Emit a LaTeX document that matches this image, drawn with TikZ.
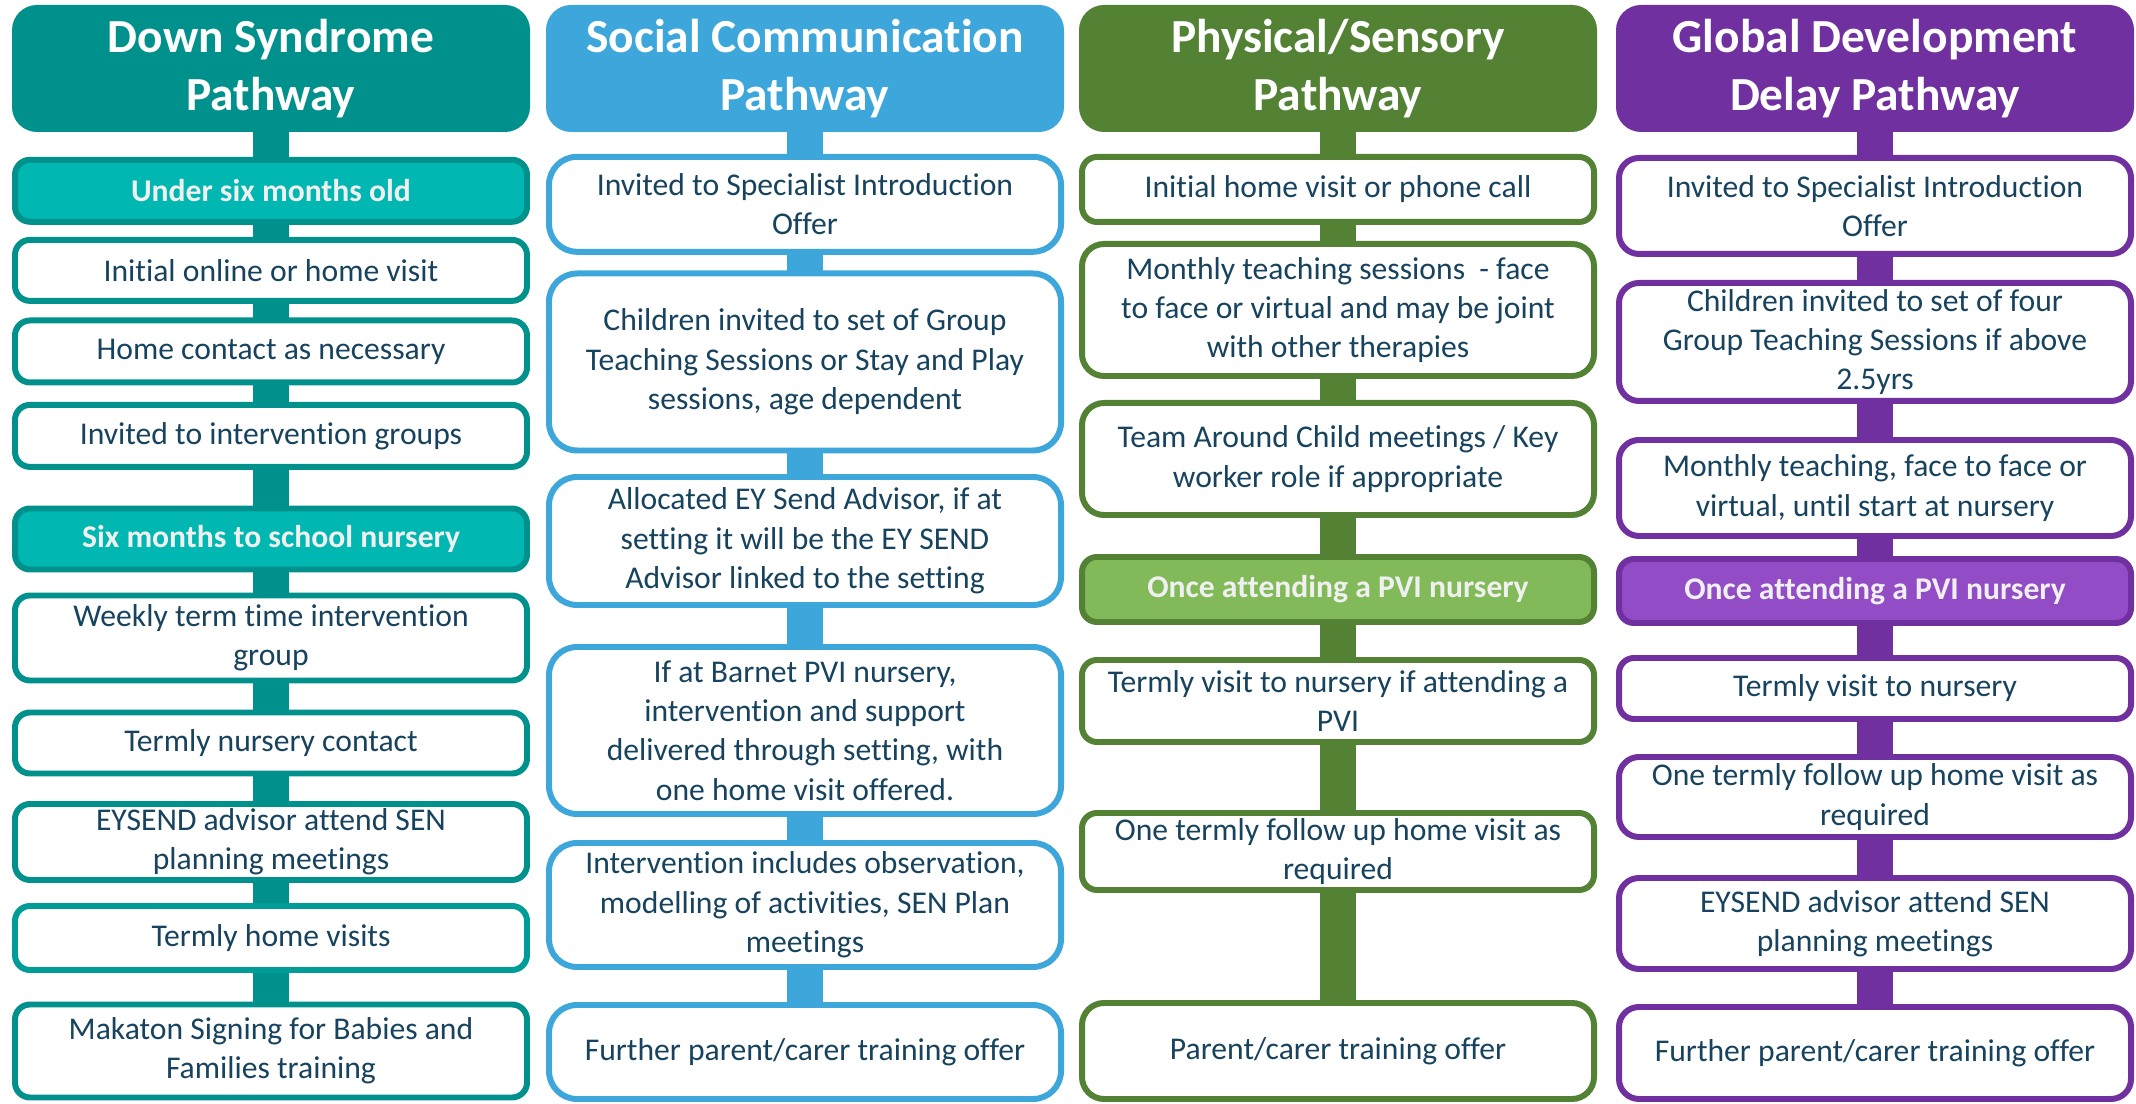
\documentclass[tikz,border=0pt]{standalone}
\usepackage{fontspec}
\setmainfont{Carlito}[Ligatures={NoRequired,NoCommon,NoRare,NoContextual},RawFeature={-liga;-clig;-calt;-dlig;-rlig}]
\usetikzlibrary{backgrounds}

\definecolor{dsteal}{HTML}{00918C}
\definecolor{dslight}{HTML}{00B7B1}
\definecolor{scblue}{HTML}{3DA7DB}
\definecolor{psgreen}{HTML}{548235}
\definecolor{pslight}{HTML}{82BA5A}
\definecolor{gdpurple}{HTML}{7030A0}
\definecolor{gdlight}{HTML}{924CC6}
\definecolor{navy}{HTML}{17435E}

\tikzset{
	pathhead/.style={fill=#1, rounded corners=0.25cm, minimum width=5.18cm, minimum height=1.27cm,
		text=white, align=center, inner sep=1pt, font=\fontsize{13.5}{16.5}\selectfont\bfseries},
	stepbox/.style={draw=#1, fill=white, line width=1.7pt, rounded corners=0.15cm, minimum width=5.12cm,
		text=navy, align=center, inner sep=1pt, font=\fontsize{9}{11.2}\selectfont},
	agebox/.style 2 args={stepbox=#1, fill=#2, text=white!94!black, font=\fontsize{9}{11.2}\selectfont\bfseries},
	bar/.style={draw=#1, line width=0.355cm},
}

\begin{document}
\begin{tikzpicture}
\useasboundingbox (0,0) rectangle (21.36,-11.04);

% Down Syndrome
\node[pathhead=dsteal] (d0) at (2.71,-0.685) {Down Syndrome\\Pathway};
\node[agebox={dsteal}{dslight}, minimum height=0.62cm] (d1) at (2.71,-1.908) {Under six months old};
\node[stepbox=dsteal, minimum height=0.61cm] (d2) at (2.71,-2.704) {Initial online or home visit};
\node[stepbox=dsteal, minimum height=0.62cm] (d3) at (2.71,-3.515) {Home contact as necessary};
\node[stepbox=dsteal, minimum height=0.62cm] (d4) at (2.71,-4.359) {Invited to intervention groups};
\node[agebox={dsteal}{dslight}, minimum height=0.61cm] (d5) at (2.71,-5.39) {Six months to school nursery};
\node[stepbox=dsteal, minimum height=0.85cm] (d6) at (2.71,-6.38) {Weekly term time intervention\\group};
\node[stepbox=dsteal, minimum height=0.61cm] (d7) at (2.71,-7.43) {Termly nursery contact};
\node[stepbox=dsteal, minimum height=0.76cm] (d8) at (2.71,-8.42) {EYSEND advisor attend SEN\\planning meetings};
\node[stepbox=dsteal!70!dslight, minimum height=0.64cm] (d9) at (2.71,-9.38) {Termly home visits};
\node[stepbox=dsteal, minimum height=0.93cm] (d10) at (2.71,-10.51) {Makaton Signing for Babies and\\Families training};

% Social Communication
\node[pathhead=scblue] (s0) at (8.05,-0.685) {Social Communication\\Pathway};
\node[stepbox=scblue, rounded corners=0.28cm, minimum height=0.95cm] (s1) at (8.05,-2.043) {Invited to Specialist Introduction\\Offer};
\node[stepbox=scblue, rounded corners=0.28cm, minimum height=1.77cm] (s2) at (8.05,-3.62) {Children invited to set of Group\\Teaching Sessions or Stay and Play\\sessions, age dependent};
\node[stepbox=scblue, rounded corners=0.28cm, minimum height=1.28cm] (s3) at (8.05,-5.41) {Allocated EY Send Advisor, if at\\setting it will be the EY SEND\\Advisor linked to the setting};
\node[stepbox=scblue, rounded corners=0.28cm, minimum height=1.67cm] (s4) at (8.05,-7.305) {If at Barnet PVI nursery,\\intervention and support\\delivered through setting, with\\one home visit offered.};
\node[stepbox=scblue, rounded corners=0.28cm, minimum height=1.24cm] (s5) at (8.05,-9.05) {Intervention includes observation,\\modelling of activities, SEN Plan\\meetings};
\node[stepbox=scblue, rounded corners=0.28cm, minimum height=0.94cm] (s6) at (8.05,-10.52) {Further parent/carer training offer};

% Physical/Sensory
\node[pathhead=psgreen] (p0) at (13.38,-0.685) {Physical/Sensory\\Pathway};
\node[stepbox=psgreen, minimum height=0.65cm] (p1) at (13.38,-1.895) {Initial home visit or phone call};
\node[stepbox=psgreen, rounded corners=0.22cm, minimum height=1.32cm] (p2) at (13.38,-3.10) {Monthly teaching sessions~ - face\\to face or virtual and may be joint\\with other therapies};
\node[stepbox=psgreen, rounded corners=0.22cm, minimum height=1.12cm] (p3) at (13.38,-4.59) {Team Around Child meetings / Key\\worker role if appropriate};
\node[agebox={psgreen}{pslight}, minimum height=0.65cm] (p4) at (13.38,-5.895) {Once attending a PVI nursery};
\node[stepbox=psgreen, minimum height=0.82cm] (p5) at (13.38,-7.01) {Termly visit to nursery if attending a\\PVI};
\node[stepbox=psgreen, minimum height=0.77cm] (p6) at (13.38,-8.515) {One termly follow up home visit as\\required};
\node[stepbox=psgreen, rounded corners=0.22cm, minimum height=0.96cm] (p7) at (13.38,-10.51) {Parent/carer training offer};

% Global Development Delay
\node[pathhead=gdpurple] (g0) at (18.75,-0.685) {Global Development\\Delay Pathway};
\node[stepbox=gdpurple, rounded corners=0.2cm, minimum height=0.96cm] (g1) at (18.75,-2.06) {Invited to Specialist Introduction\\Offer};
\node[stepbox=gdpurple, rounded corners=0.2cm, minimum height=1.18cm] (g2) at (18.75,-3.42) {Children invited to set of four\\Group Teaching Sessions if above\\2.5yrs};
\node[stepbox=gdpurple, rounded corners=0.2cm, minimum height=0.96cm] (g3) at (18.75,-4.88) {Monthly teaching, face to face or\\virtual, until start at nursery};
\node[agebox={gdpurple}{gdlight}, minimum height=0.64cm] (g4) at (18.75,-5.91) {Once attending a PVI nursery};
\node[stepbox=gdpurple, minimum height=0.61cm] (g5) at (18.75,-6.885) {Termly visit to nursery};
\node[stepbox=gdpurple, rounded corners=0.2cm, minimum height=0.80cm] (g6) at (18.75,-7.97) {One termly follow up home visit as\\required};
\node[stepbox=gdpurple, rounded corners=0.2cm, minimum height=0.91cm] (g7) at (18.75,-9.235) {EYSEND advisor attend SEN\\planning meetings};
\node[stepbox=gdpurple, rounded corners=0.2cm, minimum height=0.92cm] (g8) at (18.75,-10.53) {Further parent/carer training offer};

% bars behind the boxes
\begin{scope}[on background layer]
\foreach \c/\n/\col in {d/10/dsteal,s/6/scblue,p/7/psgreen,g/8/gdpurple}
	\foreach \i in {1,...,\n}{
		\pgfmathtruncatemacro{\j}{\i-1}
		\draw[bar=\col] (\c\j.center) -- (\c\i.center);
	}
\end{scope}

\end{tikzpicture}
\end{document}
